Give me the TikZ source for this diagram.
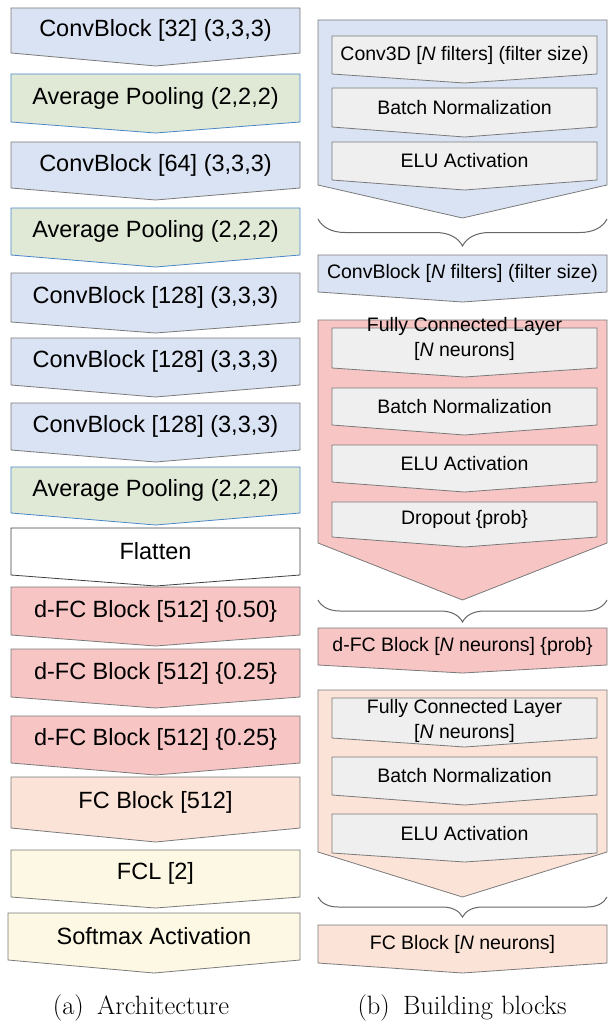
\documentclass[tikz,border=0pt]{standalone}
\usepackage{fontspec}
\usepackage{tikz}
\usetikzlibrary{decorations.pathreplacing}
\newfontfamily\arial{Liberation Sans}
\definecolor{convblue}{HTML}{DAE3F3}
\definecolor{poolgreen}{HTML}{E0E9D6}
\definecolor{poolline}{HTML}{4A86C8}
\definecolor{dfcred}{HTML}{F8C5C5}
\definecolor{fcpeach}{HTML}{FCE3D7}
\definecolor{outyellow}{HTML}{FDF8E3}
\definecolor{subgray}{HTML}{EFEFEF}
\definecolor{edgegray}{HTML}{7A7A7A}

\newcommand{\layer}[9][]{%
  \draw[#3] (#4,#6) -- (#5,#6) -- (#5,#7) -- ({(#4+#5)/2},#8) -- (#4,#7) -- cycle;
  \node[#1] (#2) at ({(#4+#5)/2},{(#6+#7)/2}) {#9};}

\begin{document}
\begin{tikzpicture}[x=1pt,y=-1pt,line width=0.8pt,
  conv/.style={draw=edgegray,fill=convblue},
  pool/.style={draw=poolline,fill=poolgreen},
  flat/.style={draw=black!75,fill=white},
  dfc/.style={draw=edgegray,fill=dfcred},
  fcb/.style={draw=edgegray,fill=fcpeach},
  outl/.style={draw=edgegray,fill=outyellow},
  sub/.style={draw=edgegray,fill=subgray},
  wrap/.style={decorate,decoration={brace,mirror,amplitude=#1},draw=black!60,line width=1pt},
  every node/.style={align=center,inner sep=0pt}]

\useasboundingbox (0,0) rectangle (608,1027);

\begin{scope}[every node/.append style={font=\arial\fontsize{23.5}{27}\selectfont}]
\layer{cb32}{conv}{11}{300}{8}{53}{66}{ConvBlock [32] (3,3,3)}
\layer{ap1}{pool}{11}{300}{74}{122}{133}{Average Pooling (2,2,2)}
\layer{cb64}{conv}{11}{300}{142}{188}{200}{ConvBlock [64] (3,3,3)}
\layer{ap2}{pool}{11}{300}{208}{255}{267}{Average Pooling (2,2,2)}
\layer{cb128a}{conv}{11}{300}{273}{322}{333}{ConvBlock [128] (3,3,3)}
\layer{cb128b}{conv}{11}{300}{338}{385}{397}{ConvBlock [128] (3,3,3)}
\layer{cb128c}{conv}{11}{300}{403}{450}{462}{ConvBlock [128] (3,3,3)}
\layer{ap3}{pool}{11}{300}{467}{513}{525}{Average Pooling (2,2,2)}
\layer{fl}{flat}{11}{300}{528}{575}{586}{Flatten}
\layer{dfc1}{dfc}{11}{300}{587}{635}{646}{d-FC Block [512] \{0.50\}}
\layer{dfc2}{dfc}{11}{300}{649}{697}{708}{d-FC Block [512] \{0.25\}}
\layer{dfc3}{dfc}{11}{300}{716}{763}{775}{d-FC Block [512] \{0.25\}}
\layer{fcb512}{fcb}{11}{300}{777}{828}{842}{FC Block [512]}
\layer{fcl}{outl}{11}{300}{850}{897}{908}{FCL [2]}
\layer{sm}{outl}{8}{300}{913}{960}{973}{Softmax Activation}
\end{scope}

\begin{scope}[every node/.append style={font=\arial\fontsize{19.5}{25}\selectfont}]
\layer{convwrap}{conv}{318}{607}{20}{185}{218}{}
\layer{c3d}{sub}{332}{597}{36}{74}{83}{Conv3D [\textit{N} filters] (filter size)}
\layer{bn1}{sub}{332}{597}{88}{127}{137}{Batch Normalization}
\layer{elu1}{sub}{332}{597}{142}{180}{190}{ELU Activation}
\coordinate (bl1) at (318,219);
\coordinate (br1) at (607,219);
\draw[wrap=27] (bl1) -- (br1);
\layer{convblk}{conv}{318}{607}{255}{292}{302}{ConvBlock [\textit{N} filters] (filter size)}

\layer{dfcwrap}{dfc}{318}{607}{320}{543}{600}{}
\layer[yshift=9pt]{fcl1}{sub}{332}{597}{328}{368}{377}{Fully Connected Layer\\{}[\textit{N} neurons]}
\layer{bn2}{sub}{332}{597}{388}{425}{435}{Batch Normalization}
\layer{elu2}{sub}{332}{597}{445}{482}{492}{ELU Activation}
\layer{drop}{sub}{332}{597}{502}{537}{547}{Dropout \{prob\}}
\coordinate (bl2) at (318,600);
\coordinate (br2) at (607,600);
\draw[wrap=22] (bl2) -- (br2);
\layer{dfcblk}{dfc}{318}{607}{628}{665}{673}{d-FC Block [\textit{N} neurons] \{prob\}}

\layer{fcwrap}{fcb}{318}{607}{690}{852}{897}{}
\layer[yshift=-3pt]{fcl2}{sub}{332}{597}{698}{738}{747}{Fully Connected Layer\\{}[\textit{N} neurons]}
\layer{bn3}{sub}{332}{597}{757}{795}{805}{Batch Normalization}
\layer{elu3}{sub}{332}{597}{814}{853}{862}{ELU Activation}
\coordinate (bl3) at (318,897);
\coordinate (br3) at (607,897);
\draw[wrap=20] (bl3) -- (br3);
\layer{fcblk}{fcb}{318}{607}{925}{963}{973}{FC Block [\textit{N} neurons]}
\end{scope}

\node[font=\fontsize{26.5}{31}\selectfont] (capa) at (141,1008) {(a)\hspace{0.5em}Architecture};
\node[font=\fontsize{26.5}{31}\selectfont] (capb) at (462,1008) {(b)\hspace{0.5em}Building blocks};
\end{tikzpicture}
\end{document}
